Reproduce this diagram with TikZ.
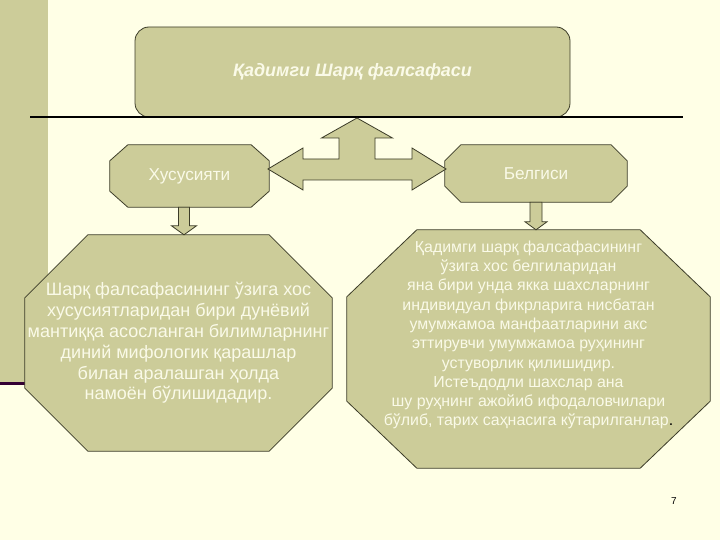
\documentclass[tikz,border=0pt]{standalone}
\usepackage{fontspec}
\setmainfont{Liberation Sans}
\usetikzlibrary{calc,backgrounds}
\definecolor{bg}{RGB}{255,255,230}
\definecolor{khaki}{RGB}{204,204,153}
\definecolor{edge}{RGB}{60,60,40}
\definecolor{txt}{RGB}{250,250,232}
\definecolor{barline}{RGB}{51,0,51}

% octagon around a holder node: #1 node, #2 dx, #3 dy (image coords, y down)
\newcommand{\octo}[3]{%
  \draw[shapebox] ($(#1.north west)+(#2,0)$) -- ($(#1.north east)+(-#2,0)$)
    -- ($(#1.north east)+(0,#3)$) -- ($(#1.south east)+(0,-#3)$)
    -- ($(#1.south east)+(-#2,0)$) -- ($(#1.south west)+(#2,0)$)
    -- ($(#1.south west)+(0,-#3)$) -- ($(#1.north west)+(0,#3)$) -- cycle;}
% block arrow pointing down: #1 top coord, #2 tip coord, #3 shaft half, #4 head half, #5 head length
\newcommand{\blockdown}[5]{%
  \draw[shapebox] ($(#1)+(-#3,0)$) -- ($(#2)+(-#3,-#5)$) -- ($(#2)+(-#4,-#5)$)
    -- (#2) -- ($(#2)+(#4,-#5)$) -- ($(#2)+(#3,-#5)$) -- ($(#1)+(#3,0)$) -- cycle;}

\begin{document}
\begin{tikzpicture}[x=1pt,y=-1pt,
  shapebox/.style={fill=khaki,draw=edge,line width=0.8pt,line join=miter},
  holder/.style={draw=none,inner sep=0pt,text=txt,align=center},
  smalltxt/.style={font=\fontsize{17.2}{20}\selectfont},
  bigtxt/.style={font=\fontsize{18}{20.8}\selectfont},
  righttxt/.style={font=\fontsize{15.9}{19.3}\selectfont},
  titlebox/.style={fill=khaki,draw=edge,line width=0.8pt,rounded corners=14pt,
    text=txt,font=\fontsize{18}{20}\selectfont\bfseries\itshape}]
\useasboundingbox (0,0) rectangle (720,540);

% layout holders (text on top, shapes behind)
\node[titlebox,minimum width=435pt,minimum height=90pt] (title) at (352.5,72) {\raisebox{-3pt}{Қадимги Шарқ фалсафаси}};
\node[holder,smalltxt,minimum width=159pt,minimum height=62pt] (hus) at (189.5,176) {Хусусияти};
\node[holder,smalltxt,minimum width=182pt,minimum height=57pt] (bel) at (536,173.5) {Белгиси};
\node[holder,bigtxt,minimum width=307pt,minimum height=216pt] (bigL) at (178.5,343)
  {Шарқ фалсафасининг ўзига хос\\хусусиятларидан бири дунёвий\\мантиққа асосланган билимларнинг\\диний мифологик қарашлар\\билан аралашган ҳолда\\намоён бўлишидадир.};
\node[holder,minimum width=363pt,minimum height=238pt] (bigR) at (528.5,349) {};
\node[holder,righttxt] (bigRt) at ($(bigR)+(0,-14)$)
  {Қадимги шарқ фалсафасининг\\ўзига хос белгиларидан\\яна бири унда якка шахсларнинг\\индивидуал фикрларига нисбатан\\умумжамоа манфаатларини акс\\эттирувчи умумжамоа руҳининг\\устуворлик қилишидир.\\Истеъдодли шахслар ана\\шу руҳнинг ажойиб ифодаловчилари\\бўлиб, тарих саҳнасига кўтарилганлар{\color{black}.}};
\node[font=\fontsize{10}{12}\selectfont,text=black,inner sep=0pt] (pg) at (674,501) {7};

\begin{pgfonlayer}{background}
  \fill[bg] (0,0) rectangle (720,540);
  \fill[khaki] (0,0) rectangle (48,382);
  \fill[barline] (0,382) rectangle (48,385);
  \octo{hus}{18}{16}
  \octo{bel}{16}{16}
  \octo{bigL}{63}{63}
  \octo{bigR}{70}{67}
\end{pgfonlayer}

% rule under the title
\coordinate (ruleL) at (30,117);
\coordinate (ruleR) at (683,117);
\draw[line width=1.3pt,black] (ruleL) -- (ruleR);

% three-way block arrow
\coordinate (hub) at (357,169);
\draw[shapebox] ($(hub)+(0,-51)$) -- ($(hub)+(35.5,-31)$) -- ($(hub)+(18,-31)$)
  -- ($(hub)+(18,-10)$) -- ($(hub)+(55,-10)$) -- ($(hub)+(55,-21)$)
  -- ($(hub)+(89,0)$) -- ($(hub)+(55,21)$) -- ($(hub)+(55,11)$)
  -- ($(hub)+(-54,11)$) -- ($(hub)+(-54,21)$) -- ($(hub)+(-89,0)$)
  -- ($(hub)+(-54,-21)$) -- ($(hub)+(-54,-10)$) -- ($(hub)+(-18,-10)$)
  -- ($(hub)+(-18,-31)$) -- ($(hub)+(-35.5,-31)$) -- cycle;

% down arrows
\coordinate (la) at ($(hus.south)+(-5.5,0)$);
\coordinate (lb) at (la |- bigL.north);
\blockdown{la}{lb}{5.5}{12.5}{9}
\coordinate (ra) at (bel.south);
\coordinate (rb) at (ra |- bigR.north);
\blockdown{ra}{rb}{6}{11}{8}
\end{tikzpicture}
\end{document}
